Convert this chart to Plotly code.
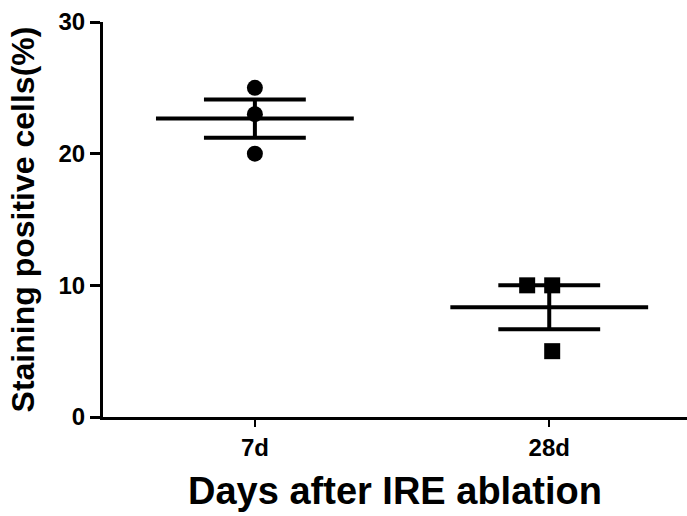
import numpy as np
import plotly.graph_objects as go

categories = ["7d", "28d"]
values_7d = [25, 23, 20]
values_28d = [10, 10, 5]
jitter_7d = [0.0, 0.0, 0.0]
jitter_28d = [-0.075, 0.01, 0.01]
y_ticks = [0, 10, 20, 30]

groups = [values_7d, values_28d]
jitters = [jitter_7d, jitter_28d]
symbols = ["circle", "square"]

FONT = "Liberation Sans, Arial, sans-serif"
fig = go.Figure()

MEAN_HW = 0.336
CAP_HW = 0.173
LW = 4

for i, (cat, vals, jit, sym) in enumerate(zip(categories, groups, jitters, symbols)):
    v = np.array(vals, dtype=float)
    mean = v.mean()
    sem = v.std(ddof=1) / np.sqrt(len(v))
    # mean line
    fig.add_trace(go.Scatter(x=[i - MEAN_HW, i + MEAN_HW], y=[mean, mean], mode="lines",
                             line=dict(color="black", width=LW), showlegend=False, hoverinfo="skip"))
    # SEM caps
    for yv in (mean - sem, mean + sem):
        fig.add_trace(go.Scatter(x=[i - CAP_HW, i + CAP_HW], y=[yv, yv], mode="lines",
                                 line=dict(color="black", width=LW), showlegend=False, hoverinfo="skip"))
    fig.add_trace(go.Scatter(x=[i, i], y=[mean - sem, mean + sem], mode="lines",
                             line=dict(color="black", width=LW), showlegend=False, hoverinfo="skip"))
    # points
    fig.add_trace(go.Scatter(x=[i + j for j in jit], y=vals, mode="markers",
                             marker=dict(symbol=sym, size=16, color="black"),
                             showlegend=False, name=cat))

fig.update_layout(
    width=687, height=516,
    margin=dict(l=103, r=0, t=22, b=99),
    paper_bgcolor="white", plot_bgcolor="white",
    font=dict(family=FONT, color="black"),
    xaxis=dict(
        range=[-0.516, 1.468], tickmode="array", tickvals=[0, 1], ticktext=categories,
        showline=True, linecolor="black", linewidth=3, showgrid=False, zeroline=False,
        ticks="outside", ticklen=7, tickwidth=2, tickcolor="black",
        tickfont=dict(size=24, weight="bold", family=FONT),
        title=dict(text="Days after IRE ablation", font=dict(size=38, weight="bold", family=FONT), standoff=18),
    ),
    yaxis=dict(
        range=[0, 30], tickmode="array", tickvals=y_ticks,
        showline=True, linecolor="black", linewidth=3, showgrid=False, zeroline=False,
        ticks="outside", ticklen=10, tickwidth=3, tickcolor="black",
        tickfont=dict(size=24, weight="bold", family=FONT),
        title=dict(text="Staining positive cells(%)", font=dict(size=32, weight="bold", family=FONT), standoff=15),
    ),
)

fig.write_html(
    "out.html",
    config={"displayModeBar": False},
    post_script="document.body.style.margin='0';document.body.style.overflow='hidden';"
                "document.documentElement.style.overflow='hidden';",
)
